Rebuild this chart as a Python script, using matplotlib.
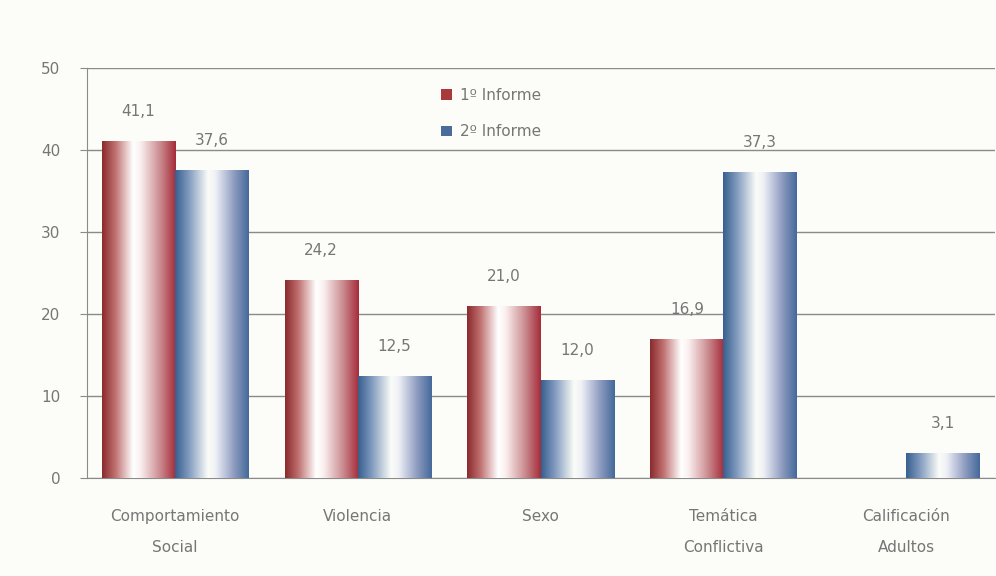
import numpy as np
import matplotlib.pyplot as plt
from matplotlib.colors import LinearSegmentedColormap
from matplotlib.patches import Patch

categories = ['Comportamiento\nSocial', 'Violencia', 'Sexo', 'Temática\nConflictiva', 'Calificación\nAdultos']
informe1 = [41.1, 24.2, 21.0, 16.9, 0.0]
informe2 = [37.6, 12.5, 12.0, 37.3, 3.1]
series_names = ['1º Informe', '2º Informe']

txt = '#767676'
bg = '#fcfcf8'

red_cmap = LinearSegmentedColormap.from_list('r', [(0, '#8a2a2c'), (0.18, '#c07070'), (0.42, '#ffffff'),
                                                   (0.52, '#fbf0f0'), (0.78, '#cc8e92'), (1, '#a52c3a')])
blue_cmap = LinearSegmentedColormap.from_list('b', [(0, '#375f8e'), (0.18, '#7e98bd'), (0.45, '#fbfdf8'),
                                                    (0.55, '#eef0f6'), (0.8, '#8e9cc0'), (1, '#44699a')])

fig = plt.figure(figsize=(9.96, 5.76), dpi=100, facecolor=bg)
ax = fig.add_axes([0.0873, 0.170, 0.912, 0.712], facecolor=bg)

x = np.arange(len(categories))
w = 0.4
grad = np.linspace(0, 1, 256).reshape(1, -1)


def gradient_bars(xs, vals, cmap):
    bars = ax.bar(xs, vals, w, color='none', edgecolor='none', zorder=3)
    for b in bars:
        h = b.get_height()
        if h <= 0:
            continue
        x0 = b.get_x()
        im = ax.imshow(grad, cmap=cmap, aspect='auto', extent=(x0, x0 + b.get_width(), 0, h),
                       zorder=3, interpolation='bicubic')
        im.set_clip_path(b)
    return bars


gradient_bars(x - w / 2, informe1, red_cmap)
gradient_bars(x + w / 2, informe2, blue_cmap)

for xs, vals in [(x - w / 2, informe1), (x + w / 2, informe2)]:
    for xi, v in zip(xs, vals):
        if v > 0:
            ax.text(xi, v + 3.6, f'{v:.1f}'.replace('.', ','), ha='center', va='center',
                    fontsize=11, color=txt, zorder=4)

ax.set_xlim(-0.4815, 4.487)
ax.set_ylim(0, 50)
ax.set_yticks(range(0, 51, 10))
ax.yaxis.grid(True, color='#8a8a8a', linewidth=1)
ax.set_axisbelow(True)
ax.set_xticks(x)
ax.set_xticklabels(categories, linespacing=2.4)
ax.tick_params(axis='x', length=0, pad=22, labelsize=11, labelcolor=txt)
ax.tick_params(axis='y', length=5, color='#8a8a8a', labelsize=11, labelcolor=txt, pad=14)
for s in ['top', 'right']:
    ax.spines[s].set_visible(False)
for s in ['left', 'bottom']:
    ax.spines[s].set_color('#8a8a8a')

handles = [Patch(facecolor='#a8393c'), Patch(facecolor='#4a6c9a')]
leg = ax.legend(handles, series_names, loc='upper left', bbox_to_anchor=(0.375, 0.985),
                frameon=False, fontsize=11, labelcolor=txt, handlelength=0.7,
                handleheight=0.7, handletextpad=0.5, labelspacing=1.4)

plt.savefig('out.png', dpi=100, facecolor=bg)
